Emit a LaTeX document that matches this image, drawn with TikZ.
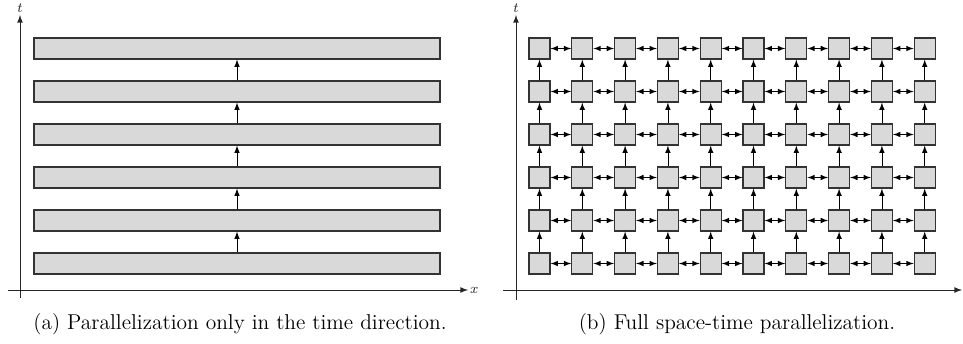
\documentclass[tikz,border=0pt]{standalone}
\usepackage{amsmath}
\usepackage{tikz}
\usepackage{xcolor}

\tikzset{
    bar/.style={draw=black!80,fill=black!15,line width=0.7pt,minimum width=8.12cm,minimum height=0.42cm,inner sep=0pt},
    cell/.style={draw=black!80,fill=black!15,line width=0.7pt,minimum size=0.42cm,inner sep=0pt},
    link/.style={line width=0.45pt,>=latex},
    axis/.style={line width=0.5pt,black!85,->,>=latex}
}

\begin{document}
\begin{tikzpicture}
    \useasboundingbox (0,0) rectangle (19.26,6.86);

    % (a) time only
    \draw[axis] (0.40,0.90)--(0.40,6.56) node[above,inner sep=1pt]{\footnotesize$t$};
    \draw[axis] (0.16,1.06)--(9.36,1.06) node[right,inner sep=1pt]{\footnotesize$x$};
    \foreach \j in {1,...,6}
        \node[bar] (b\j) at (4.74,{1.59+(\j-1)*0.86}){};
    \foreach \j [count=\k from 2] in {1,...,5}
        \draw[link,->] (b\j.north)--(b\k.south);
    \node (capa) at (4.80,0.38) {\fontsize{12.2}{14}\selectfont (a)\ Parallelization only in the time direction.};

    % (b) space-time
    \draw[axis] (10.32,0.86)--(10.32,6.56) node[above,inner sep=1pt]{\footnotesize$t$};
    \draw[axis] (10.06,1.06)--(19.24,1.06);
    \foreach \i in {1,...,10}
        \foreach \j in {1,...,6}
            \node[cell] (s-\i-\j) at ({10.79+(\i-1)*0.856},{1.59+(\j-1)*0.86}){};
    \foreach \i [count=\n from 2] in {1,...,9}
        \foreach \j in {1,...,6}
            \draw[link,<->] (s-\i-\j.east)--(s-\n-\j.west);
    \foreach \i in {1,...,10}
        \foreach \j [count=\k from 2] in {1,...,5}
            \draw[link,->] (s-\i-\j.north)--(s-\i-\k.south);
    \node (capb) at (14.74,0.38) {\fontsize{12.2}{14}\selectfont (b)\ Full space-time parallelization.};

\end{tikzpicture}
\end{document}
